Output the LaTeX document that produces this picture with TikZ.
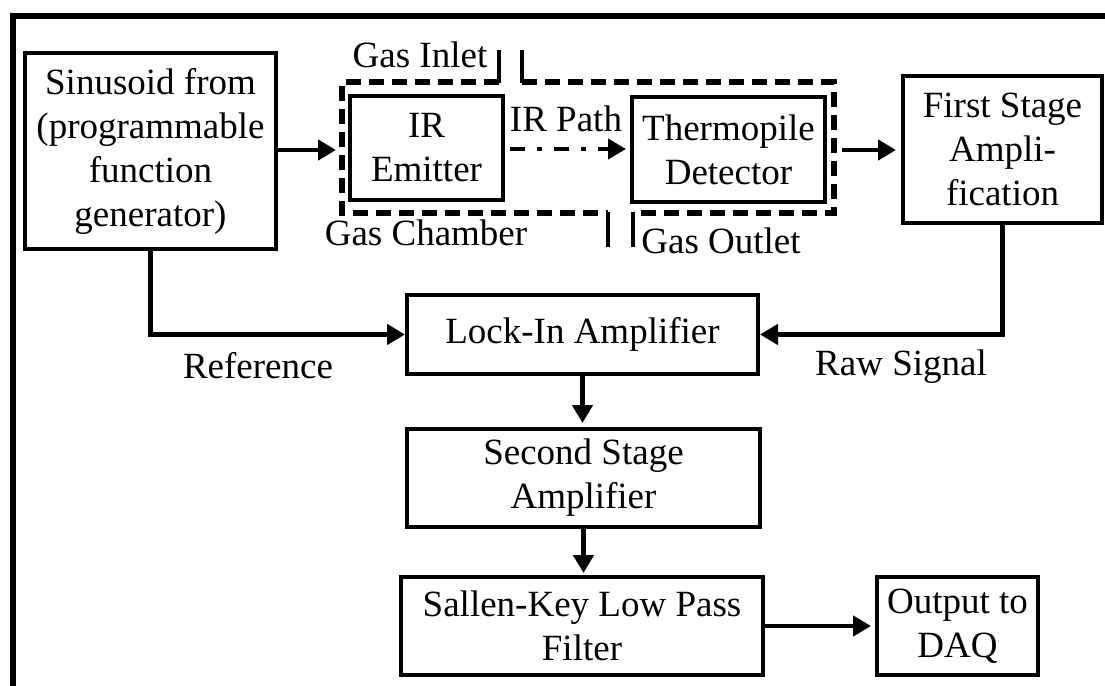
\documentclass[tikz,border=0pt]{standalone}
\usepackage{fontspec}
\setmainfont{Liberation Serif}
\usetikzlibrary{arrows.meta}
\tikzset{
    blk/.style={draw, line width=2pt, align=center, inner sep=0pt,
        font=\fontsize{18.5}{22}\selectfont},
    lbl/.style={inner sep=0pt, font=\fontsize{18.5}{22}\selectfont},
    sig/.style={line width=2.4pt, -{Triangle[length=9pt,width=10pt]}},
    chamber/.style={line width=2.6pt, dash pattern=on 7.5pt off 4pt},
    port/.style={line width=2.3pt}
}
\begin{document}
\begin{tikzpicture}[x=0.5pt, y=-0.5pt]
            \useasboundingbox (0, 0) rectangle (1105, 686);
            \draw[line width=3pt] (13, 686) -- (13, 16) -- (1105, 16);
            \node[blk, minimum width=125.5pt, minimum height=98pt] (sin) at (150.5, 151)
                {Sinusoid from\\(programmable\\function\\generator)};
            \node[blk, minimum width=76.5pt, minimum height=52pt] (emit) at (426.5, 148) {IR\\Emitter};
            \node[blk, minimum width=96.5pt, minimum height=52.5pt] (thermo) at (728.5, 149.5)
                {Thermopile\\Detector};
            \node[blk, minimum width=99.5pt, minimum height=73.5pt] (first) at (1002.5, 149.5)
                {First Stage\\Ampli-\\fication};
            \node[blk, minimum width=175.5pt, minimum height=39.5pt] (lock) at (582.5, 334.5)
                {Lock-In Amplifier};
            \node[blk, minimum width=176.5pt, minimum height=49pt] (second) at (583.5, 478)
                {Second Stage\\Amplifier};
            \node[blk, minimum width=181pt, minimum height=49pt] (sallen) at (582, 626)
                {Sallen-Key Low Pass\\Filter};
            \node[blk, minimum width=80.5pt, minimum height=49pt] (out) at (957.5, 626)
                {Output to\\DAQ};
            \node[lbl] (inlet) at (420, 55) {Gas Inlet};
            \node[lbl] (irpath) at (566, 119) {IR Path};
            \node[lbl] (gaschamber) at (426, 233) {Gas Chamber};
            \node[lbl] (outlet) at (721, 241) {Gas Outlet};
            \node[lbl] (ref) at (258, 366) {Reference};
            \node[lbl] (raw) at (901, 367) {Raw Signal};
            \draw[chamber] (499, 82) -- (342, 82) -- (342, 213) -- (608, 213);
            \draw[chamber] (522, 82) -- (834, 82) -- (834, 213) -- (633, 213);
            \draw[port] (499, 50) -- (499, 83);
            \draw[port] (522, 50) -- (522, 83);
            \draw[port] (608, 212) -- (608, 247);
            \draw[port] (633, 212) -- (633, 247);
            \coordinate (chw) at (342, 150);
            \coordinate (che) at (834, 150);
            \draw[sig, shorten >=3pt] (sin.east |- chw) -- (chw);
            \draw[sig, shorten <=4pt, shorten >=2.5pt] (che) -- (che -| first.west);
            \draw[sig, line width=2pt, dash pattern=on 7.5pt off 6pt on 2.5pt off 6pt,
                shorten <=2.5pt, shorten >=2pt] (emit.east |- 0, 149) -- (thermo.west |- 0, 149);
            \draw[sig] (sin.south) |- (lock.west);
            \draw[sig] (first.south) |- (lock.east);
            \draw[sig, shorten >=2pt] (lock.south) -- (lock.south |- second.north);
            \draw[sig, shorten >=1pt] (second.south) -- (second.south |- sallen.north);
            \draw[sig, shorten >=2pt] (sallen.east) -- (out.west);
        \end{tikzpicture}
\end{document}
